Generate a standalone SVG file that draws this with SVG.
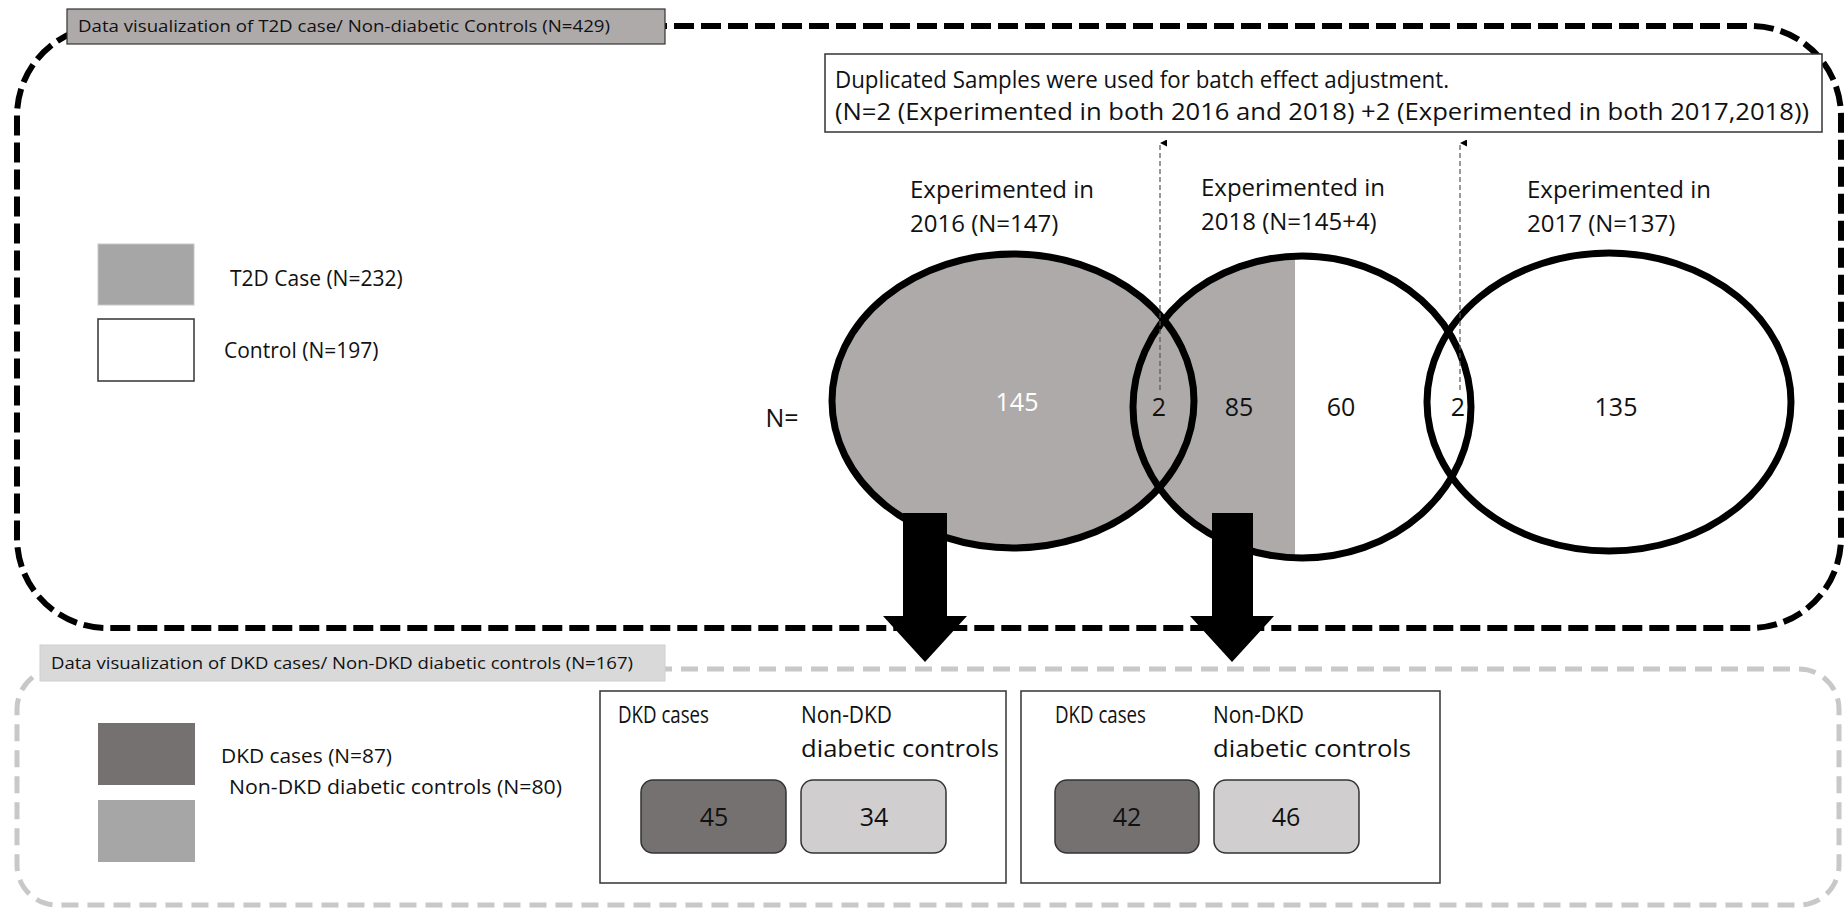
<svg xmlns="http://www.w3.org/2000/svg" width="1845" height="909" viewBox="0 0 1845 909">
<style>
text{font-family:"Open Sans","Liberation Sans",sans-serif;fill:#111}
.hdr{font-size:16px}
.lbl{font-size:24px}
.note{font-size:23px}
.num{font-size:25px;text-anchor:middle}
.leg{font-size:21px}
.leg2{font-size:20px}
.box{font-size:24px}
.ell{stroke:#000;stroke-width:7;fill:none}
.thin{stroke:#555;stroke-width:1.2;stroke-dasharray:5 3;fill:none}
</style>
<defs>
<marker id="ah" viewBox="0 0 10 10" refX="5" refY="0" markerWidth="7" markerHeight="10" orient="auto-start-reverse" markerUnits="userSpaceOnUse">
<path d="M0,10 L5,0 L10,10 Z" fill="#000"/>
</marker>
<clipPath id="c2"><rect x="1100" y="200" width="195" height="400"/></clipPath>
</defs>

<g id="frame-top">
<rect x="17" y="26" width="1824" height="602" rx="90" ry="90" fill="none" stroke="#000" stroke-width="6" stroke-dasharray="20 7"/>
</g>
<g id="frame-bottom">
<rect x="17" y="669" width="1822" height="236" rx="40" ry="40" fill="none" stroke="#c8c8c8" stroke-width="5" stroke-dasharray="17 9"/>
</g>

<g id="header-top">
<rect x="67" y="9" width="598" height="35" fill="#aeaaaa" stroke="#333" stroke-width="1.2"/>
<text class="hdr" x="78" y="32" textLength="532" lengthAdjust="spacingAndGlyphs">Data visualization of T2D case/ Non-diabetic Controls (N=429)</text>
</g>

<g id="legend-top">
<rect x="98" y="244" width="96" height="61" fill="#a6a6a6" stroke="#c8c8c8" stroke-width="1"/>
<text class="leg" x="230" y="286">T2D Case (N=232)</text>
<rect x="98" y="319" width="96" height="62" fill="#fff" stroke="#333" stroke-width="1.5"/>
<text class="leg" x="224" y="358">Control (N=197)</text>
</g>

<g id="note">
<rect x="825" y="54" width="997" height="78" fill="#fff" stroke="#333" stroke-width="1.5"/>
<text class="note" x="835" y="88" textLength="614" lengthAdjust="spacingAndGlyphs">Duplicated Samples were used for batch effect adjustment.</text>
<text class="note" x="835" y="120" textLength="974" lengthAdjust="spacingAndGlyphs">(N=2 (Experimented in both 2016 and 2018) +2 (Experimented in both 2017,2018))</text>
</g>

<g id="venn">
<ellipse cx="1013" cy="401" rx="181" ry="147" fill="#aeaaaa"/>
<ellipse cx="1302" cy="407" rx="169" ry="151" fill="#fff"/>
<ellipse cx="1302" cy="407" rx="169" ry="151" fill="#aeaaaa" clip-path="url(#c2)"/>
<ellipse cx="1609" cy="402" rx="182" ry="149" fill="#fff"/>
<ellipse class="ell" cx="1013" cy="401" rx="181" ry="147"/>
<ellipse class="ell" cx="1302" cy="407" rx="169" ry="151"/>
<ellipse class="ell" cx="1609" cy="402" rx="182" ry="149"/>
</g>

<g id="set-2016">
<text class="lbl" x="910" y="198">Experimented in</text>
<text class="lbl" x="910" y="232">2016 (N=147)</text>
<text class="num" x="1017" y="411" style="fill:#fff">145</text>
</g>
<g id="set-2018">
<text class="lbl" x="1201" y="196">Experimented in</text>
<text class="lbl" x="1201" y="230">2018 (N=145+4)</text>
<text class="num" x="1239" y="416">85</text>
<text class="num" x="1341" y="416">60</text>
</g>
<g id="set-2017">
<text class="lbl" x="1527" y="198">Experimented in</text>
<text class="lbl" x="1527" y="232">2017 (N=137)</text>
<text class="num" x="1616" y="416">135</text>
</g>
<g id="overlaps">
<text class="num" x="1159" y="416">2</text>
<text class="num" x="1458" y="416">2</text>
<text class="num" x="782" y="427">N=</text>
</g>

<g id="connectors">
<line class="thin" x1="1160" y1="390" x2="1160" y2="143" marker-end="url(#ah)"/>
<line class="thin" x1="1460" y1="390" x2="1460" y2="143" marker-end="url(#ah)"/>
<polygon points="903,513 947,513 947,616 967,616 925,662 883,616 903,616" fill="#000"/>
<polygon points="1212,513 1253,513 1253,616 1274,616 1232,662 1190,616 1212,616" fill="#000"/>
</g>

<g id="header-bottom">
<rect x="40" y="645" width="625" height="36" fill="#d9d9d9" stroke="#d0d0d0" stroke-width="1"/>
<text class="hdr" x="51" y="669" textLength="582" lengthAdjust="spacingAndGlyphs">Data visualization of DKD cases/ Non-DKD diabetic controls (N=167)</text>
</g>

<g id="legend-bottom">
<rect x="98" y="723" width="97" height="62" fill="#767171"/>
<text class="leg2" x="221" y="763" textLength="171" lengthAdjust="spacingAndGlyphs">DKD cases (N=87)</text>
<rect x="98" y="800" width="97" height="62" fill="#a6a6a6"/>
<text class="leg2" x="229" y="794" textLength="333" lengthAdjust="spacingAndGlyphs">Non-DKD diabetic controls (N=80)</text>
</g>

<g id="group-2016">
<rect x="600" y="691" width="406" height="192" fill="#fff" stroke="#333" stroke-width="1.5"/>
<text class="box" x="618" y="723" textLength="91" lengthAdjust="spacingAndGlyphs">DKD cases</text>
<text class="box" x="801" y="723" textLength="91" lengthAdjust="spacingAndGlyphs">Non-DKD</text>
<text class="box" x="801" y="757" textLength="198" lengthAdjust="spacingAndGlyphs">diabetic controls</text>
<rect x="641" y="780" width="145" height="73" rx="12" fill="#767171" stroke="#333" stroke-width="1.5"/>
<text class="num" x="714" y="826">45</text>
<rect x="801" y="780" width="145" height="73" rx="12" fill="#d0cece" stroke="#333" stroke-width="1.5"/>
<text class="num" x="874" y="826">34</text>
</g>

<g id="group-2018">
<rect x="1021" y="691" width="419" height="192" fill="#fff" stroke="#333" stroke-width="1.5"/>
<text class="box" x="1055" y="723" textLength="91" lengthAdjust="spacingAndGlyphs">DKD cases</text>
<text class="box" x="1213" y="723" textLength="91" lengthAdjust="spacingAndGlyphs">Non-DKD</text>
<text class="box" x="1213" y="757" textLength="198" lengthAdjust="spacingAndGlyphs">diabetic controls</text>
<rect x="1055" y="780" width="144" height="73" rx="12" fill="#767171" stroke="#333" stroke-width="1.5"/>
<text class="num" x="1127" y="826">42</text>
<rect x="1214" y="780" width="145" height="73" rx="12" fill="#d0cece" stroke="#333" stroke-width="1.5"/>
<text class="num" x="1286" y="826">46</text>
</g>
</svg>
